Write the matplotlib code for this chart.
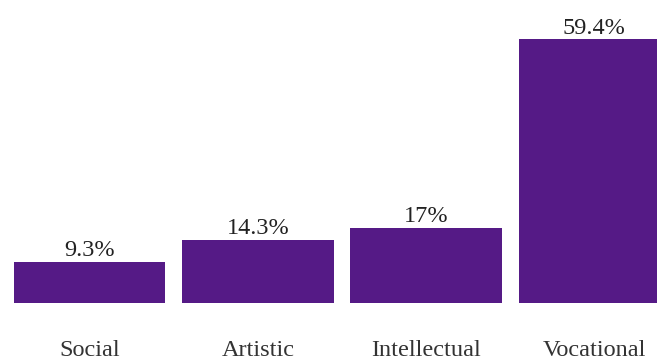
import matplotlib.pyplot as plt

categories = ['Social', 'Artistic', 'Intellectual', 'Vocational']
shares = [9.3, 14.3, 17, 59.4]

bar_color = '#551a86'

plt.rcParams['font.family'] = ['Liberation Serif', 'DejaVu Serif']

fig = plt.figure(figsize=(6.57, 3.6), dpi=100)
ax = fig.add_axes([0, 0.158, 1, 0.842])

x = range(len(categories))
bars = ax.bar(x, shares, width=0.9, color=bar_color)

# value labels above each bar
for rect, v in zip(bars, shares):
    ax.annotate(f'{v:g}%', (rect.get_x() + rect.get_width() / 2, rect.get_height()),
                xytext=(0, 4), textcoords='offset points',
                ha='center', va='baseline', fontsize=17.5, color='#222222')

ax.set_xlim(-0.532, 3.372)
ax.set_ylim(0, 68.2)
ax.set_xticks(list(x))
ax.set_xticklabels(categories, fontsize=17.5, color='#333333')
ax.tick_params(axis='x', length=0, pad=26.5)
ax.set_yticks([])
for s in ax.spines.values():
    s.set_visible(False)

fig.savefig('out.png', dpi=100)
